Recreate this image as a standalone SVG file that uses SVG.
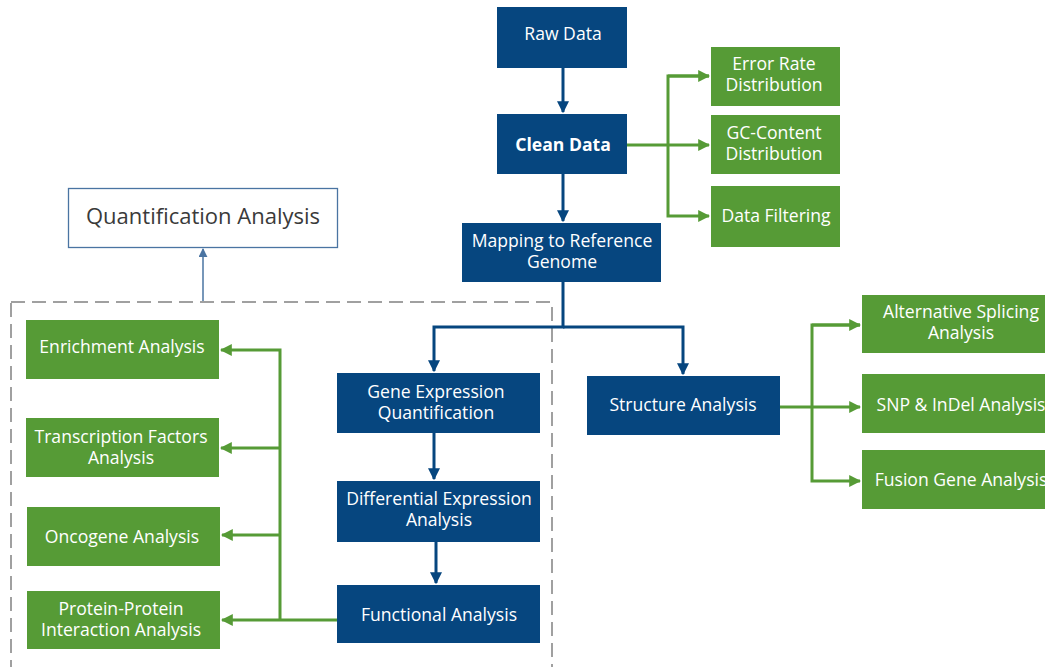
<svg xmlns="http://www.w3.org/2000/svg" width="1045" height="667" viewBox="0 0 1045 667">
<style>
.b{fill:#06467f}
.g{fill:#569b36}
.t{font-family:"Open Sans","Noto Sans","Liberation Sans",sans-serif;font-size:17.6px;fill:#fff;text-anchor:middle}
.bl{stroke:#06467f;stroke-width:3;fill:none}
.gl{stroke:#569b36;stroke-width:3;fill:none}
</style>
<defs>
<marker id="ab" viewBox="0 0 10 10" refX="9" refY="5" markerWidth="4" markerHeight="4" orient="auto" markerUnits="strokeWidth"><path d="M0,0L10,5L0,10z" fill="#06467f"/></marker>
<marker id="ag" viewBox="0 0 10 10" refX="9" refY="5" markerWidth="4" markerHeight="4" orient="auto" markerUnits="strokeWidth"><path d="M0,0L10,5L0,10z" fill="#569b36"/></marker>
<marker id="aq" viewBox="0 0 10 10" refX="9" refY="5" markerWidth="6" markerHeight="6" orient="auto" markerUnits="strokeWidth"><path d="M0,0L10,5L0,10z" fill="#4a74a2"/></marker>
</defs>
<rect x="11" y="302" width="541" height="380" fill="none" stroke="#a0a0a0" stroke-width="2" stroke-dasharray="14,7"/>
<g id="connectors">
<path class="bl" d="M563,68V112" marker-end="url(#ab)"/>
<path class="bl" d="M563,174V221" marker-end="url(#ab)"/>
<path class="gl" d="M627,145H709" marker-end="url(#ag)"/>
<path class="gl" d="M709,76H668V216H709" marker-end="url(#ag)"/>
<path class="gl" d="M668,76H709" marker-end="url(#ag)"/>
<path class="bl" d="M563,282V327H434V371" marker-end="url(#ab)"/>
<path class="bl" d="M563,327H683V374" marker-end="url(#ab)"/>
<path class="bl" d="M434,433V479" marker-end="url(#ab)"/>
<path class="bl" d="M436,542V583" marker-end="url(#ab)"/>
<path class="gl" d="M780,407H860" marker-end="url(#ag)"/>
<path class="gl" d="M860,325H812V481H860" marker-end="url(#ag)"/>
<path class="gl" d="M812,325H860" marker-end="url(#ag)"/>
<path class="gl" d="M337,620H222" marker-end="url(#ag)"/>
<path class="gl" d="M280,620V350H221" marker-end="url(#ag)"/>
<path class="gl" d="M280,448H221" marker-end="url(#ag)"/>
<path class="gl" d="M280,535H222" marker-end="url(#ag)"/>
<path d="M203,301V249" stroke="#4a74a2" stroke-width="1.5" fill="none" marker-end="url(#aq)"/>
</g>
<g id="quant"><rect x="68.5" y="188.5" width="269" height="59" fill="#fff" stroke="#4a74a2" stroke-width="1.3"/><text x="203" y="224" style="font-family:'Open Sans','Noto Sans','Liberation Sans',sans-serif;font-size:22px;fill:#3a3a3a;text-anchor:middle">Quantification Analysis</text></g>
<g id="raw"><rect class="b" x="497" y="7" width="130" height="61"/><text class="t" x="563" y="40">Raw Data</text></g>
<g id="clean"><rect class="b" x="497" y="114" width="130" height="60"/><text class="t" x="563" y="151" font-weight="bold">Clean Data</text></g>
<g id="mapping"><rect class="b" x="462" y="223" width="199" height="59"/><text class="t" x="562" y="247">Mapping to Reference</text><text class="t" x="562" y="268">Genome</text></g>
<g id="error"><rect class="g" x="711" y="47" width="129" height="59"/><text class="t" x="774" y="70">Error Rate</text><text class="t" x="774" y="91">Distribution</text></g>
<g id="gc"><rect class="g" x="711" y="115" width="129" height="59"/><text class="t" x="774" y="139">GC-Content</text><text class="t" x="774" y="160">Distribution</text></g>
<g id="filter"><rect class="g" x="711" y="186" width="129" height="61"/><text class="t" x="776" y="222">Data Filtering</text></g>
<g id="geneexp"><rect class="b" x="337" y="373" width="203" height="60"/><text class="t" x="436" y="398">Gene Expression</text><text class="t" x="436" y="419">Quantification</text></g>
<g id="diff"><rect class="b" x="337" y="481" width="203" height="61"/><text class="t" x="439" y="505">Differential Expression</text><text class="t" x="439" y="526">Analysis</text></g>
<g id="func"><rect class="b" x="337" y="585" width="203" height="58"/><text class="t" x="439" y="621">Functional Analysis</text></g>
<g id="struct"><rect class="b" x="587" y="376" width="193" height="59"/><text class="t" x="683" y="411">Structure Analysis</text></g>
<g id="alt"><rect class="g" x="862" y="295" width="198" height="58"/><text class="t" x="961" y="318">Alternative Splicing</text><text class="t" x="961" y="339">Analysis</text></g>
<g id="snp"><rect class="g" x="862" y="374" width="198" height="59"/><text class="t" x="961" y="411">SNP &amp; InDel Analysis</text></g>
<g id="fusion"><rect class="g" x="862" y="450" width="198" height="59"/><text class="t" x="961" y="486">Fusion Gene Analysis</text></g>
<g id="enrich"><rect class="g" x="26" y="320" width="193" height="59"/><text class="t" x="122" y="353">Enrichment Analysis</text></g>
<g id="tf"><rect class="g" x="26" y="418" width="193" height="59"/><text class="t" x="121" y="443">Transcription Factors</text><text class="t" x="121" y="464">Analysis</text></g>
<g id="onco"><rect class="g" x="27" y="507" width="193" height="59"/><text class="t" x="122" y="543">Oncogene Analysis</text></g>
<g id="ppi"><rect class="g" x="27" y="591" width="193" height="58"/><text class="t" x="121" y="615">Protein-Protein</text><text class="t" x="121" y="636">Interaction Analysis</text></g>
</svg>
